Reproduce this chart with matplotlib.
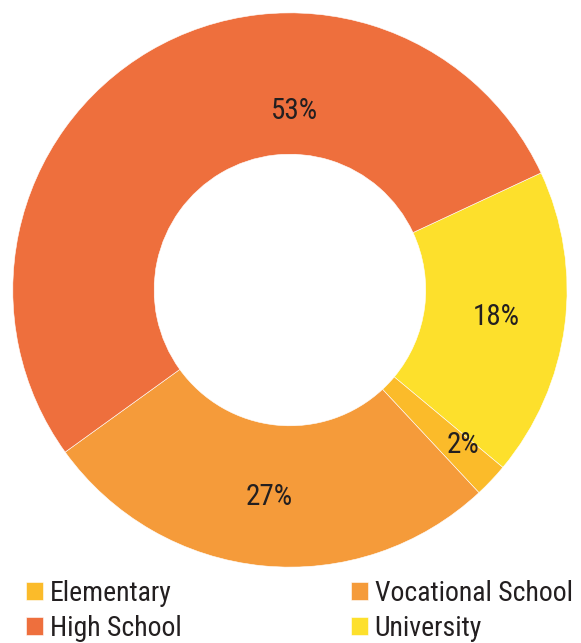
import numpy as np
import matplotlib.pyplot as plt
from matplotlib import font_manager

# share of respondents by education level (drawn clockwise from University)
labels = ['University', 'Elementary', 'Vocational School', 'High School']
shares = [18, 2, 27, 53]
colors = ['#FDE02C', '#FBBB2A', '#F59B3A', '#EE6F3D']
legend_order = ['Elementary', 'High School', 'Vocational School', 'University']

installed = {f.name for f in font_manager.fontManager.ttflist}
family = next(f for f in ['Liberation Sans Narrow', 'Roboto Condensed',
                          'Liberation Sans', 'DejaVu Sans'] if f in installed)
plt.rcParams['font.family'] = [family, 'DejaVu Sans']

fig = plt.figure(figsize=(5.81, 6.43), dpi=100)
ax = fig.add_axes([0.022, 0.118, 0.954, 0.862])

wedges, _ = ax.pie(shares, colors=colors, startangle=25, counterclock=False,
                   radius=1.0, wedgeprops=dict(width=0.51, edgecolor='white', linewidth=0.4))

# percentage labels in the ring
for w, v, lab in zip(wedges, shares, labels):
    mid = np.deg2rad((w.theta1 + w.theta2) / 2)
    r = 0.75
    if lab == 'High School':
        mid = np.deg2rad(88.5)
        r = 0.645
    elif lab == 'Elementary':
        mid = np.deg2rad((w.theta1 + w.theta2) / 2 + 1.5)
        r = 0.84
    ax.text(r * np.cos(mid), r * np.sin(mid), f'{v}%', ha='center', va='center',
            fontsize=21, color='#231F20')

ax.set_xlim(-1, 1)
ax.set_ylim(-1, 1)
ax.set_aspect('equal')

handles = [wedges[labels.index(n)] for n in legend_order]
fig.legend(handles, legend_order, loc='lower left', bbox_to_anchor=(0.002, -0.037),
           ncol=2, frameon=False, fontsize=20, handlelength=0.6, handleheight=0.6,
           handletextpad=0.25, columnspacing=6.1, labelspacing=0.28,
           labelcolor='#231F20')

fig.savefig('out.png', dpi=100)
